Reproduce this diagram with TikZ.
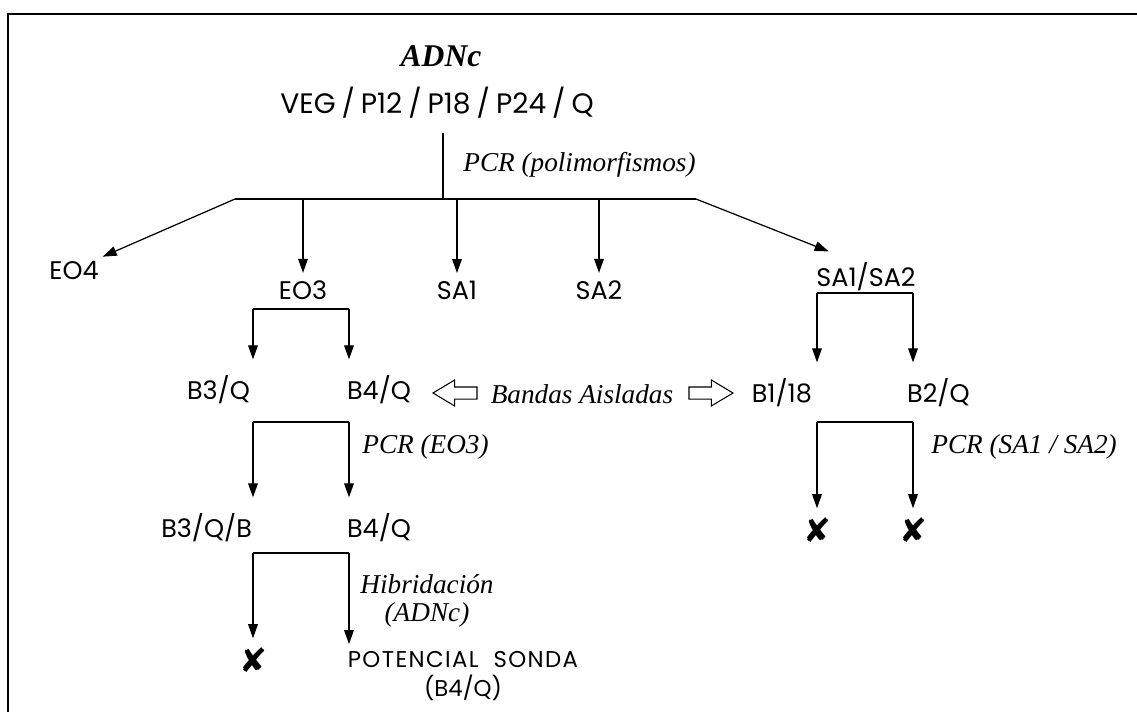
\documentclass[tikz,border=0pt]{standalone}
\usepackage{fontspec}
\setmainfont{Liberation Serif}
\setsansfont{Poppins}
\newfontfamily\symfont{DejaVu Sans}
\usetikzlibrary{arrows.meta, positioning, calc, shapes.arrows}

\begin{document}
\begin{tikzpicture}[
  x=0.02cm, y=-0.02cm,
  lab/.style={font=\fontsize{14.5}{16}\sffamily, inner sep=2pt},
  note/.style={font=\fontsize{15.5}{16}\itshape, inner sep=1pt},
  cross/.style={font=\fontsize{19}{20}\symfont, inner sep=0pt},
  hollow/.style={draw, single arrow, minimum height=0.88cm,
    inner xsep=0pt, inner ysep=0.11cm, single arrow head extend=0.14cm,
    single arrow tip angle=62, line width=0.6pt},
  down/.style={->, shorten >=7pt},
  >={Triangle[length=8pt,width=5.5pt]},
  line width=0.7pt
]
  \useasboundingbox (0,0) rectangle (1137,714);

  % Frame (top and left only)
  \coordinate (fa) at (1137,14);
  \coordinate (fb) at (8,14);
  \coordinate (fc) at (8,712);
  \draw[line width=1.2pt] (fa) -- (fb) -- (fc);

  % Source
  \node[font=\fontsize{18}{20}\bfseries\itshape] (adnc) at (441,56) {ADNc};
  \node[lab, font=\fontsize{16}{18}\sffamily] (veg) at (437,103)
    {\spaceskip=3.4pt\relax VEG / P12 / P18 / P24 / Q};

  \coordinate (top) at (443,133);
  \coordinate (hub) at (443,199);
  \coordinate (barL) at (235,199);
  \coordinate (barR) at (696,199);
  \draw (top) -- (hub);
  \draw (barL) -- (barR);
  \node[note, right] (pcr1) at (461,165) {PCR (polimorfismos)};

  % First level
  \node[lab] (eo4) at (74,270) {EO4};
  \node[lab] (eo3) at (303,290) {EO3};
  \node[lab] (sa1) at (457,290) {SA1};
  \node[lab] (sa2) at (599,290) {SA2};
  \node[lab] (sa12) at (866,277) {SA1/SA2};

  \draw[->] (barL) -- (eo4.north east);
  \draw[->, shorten >=2pt] (eo3.north |- barL) -- (eo3.north);
  \draw[->, shorten >=2pt] (sa1.north |- barL) -- (sa1.north);
  \draw[->, shorten >=2pt] (sa2.north |- barL) -- (sa2.north);
  \draw[->, shorten >=2pt] (barR) -- ($(sa12.north)+(-34,-6)$);

  % Second level
  \node[lab, anchor=east] (b3q) at (254,390) {B3/Q};
  \node[lab, anchor=west] (b4q) at (343,390) {B4/Q};
  \node[lab, anchor=east] (b118) at (816,393) {B1/18};
  \node[lab, anchor=west] (b2q) at (903,393) {B2/Q};

  \coordinate (k1l) at (253,309);
  \coordinate (k1r) at (349,309);
  \draw (k1l) -- (k1r);
  \draw[down] (k1l) -- (k1l |- b3q.north);
  \draw[down] (k1r) -- (k1r |- b4q.north);

  \coordinate (k2l) at (817,293);
  \coordinate (k2r) at (913,293);
  \draw (k2l) -- (k2r);
  \draw[down] (k2l) -- (k2l |- b118.north);
  \draw[down] (k2r) -- (k2r |- b2q.north);

  % Isolated bands
  \node[note] (bandas) at (582,394) {Bandas Aisladas};
  \node[hollow, shape border rotate=180] (arrL) at (460,393) {};
  \node[hollow] (arrR) at (706,393) {};

  % Third level
  \node[lab, anchor=east] (b3qb) at (256,528) {B3/Q/B};
  \node[lab, anchor=west] (b4q2) at (343,528) {B4/Q};

  \coordinate (k3l) at (253,422);
  \coordinate (k3r) at (349,422);
  \draw (k3l) -- (k3r);
  \draw[down] (k3l) -- (k3l |- b3qb.north);
  \draw[down] (k3r) -- (k3r |- b4q2.north);
  \node[note, right] (pcr2) at (360,447) {PCR (EO3)};

  \coordinate (k4l) at (817,422);
  \coordinate (k4r) at (913,422);
  \draw (k4l) -- (k4r);
  \node[cross] (x1) at (817,530) {✘};
  \node[cross] (x2) at (913,530) {✘};
  \draw[->, shorten >=5pt] (k4l) -- (x1.north);
  \draw[->, shorten >=5pt] (k4r) -- (x2.north);
  \node[note, right] (pcr3) at (929,447) {PCR (SA1 / SA2)};

  % Fourth level
  \coordinate (k5l) at (253,553);
  \coordinate (k5r) at (349,553);
  \draw (k5l) -- (k5r);
  \node[cross] (x3) at (253,660) {✘};
  \node[lab, align=center, font=\fontsize{13}{16}\sffamily] (sonda)
    at (463,676) {\addfontfeature{LetterSpace=6}POTENCIAL\ \ SONDA\\(B4/Q)};
  \draw[->, shorten >=5pt] (k5l) -- (x3.north);
  \draw[->, shorten >=2pt] (k5r) -- (k5r |- sonda.north);
  \node[note, align=center] (hib) at (427,601) {Hibridación\\(ADNc)};
\end{tikzpicture}
\end{document}
